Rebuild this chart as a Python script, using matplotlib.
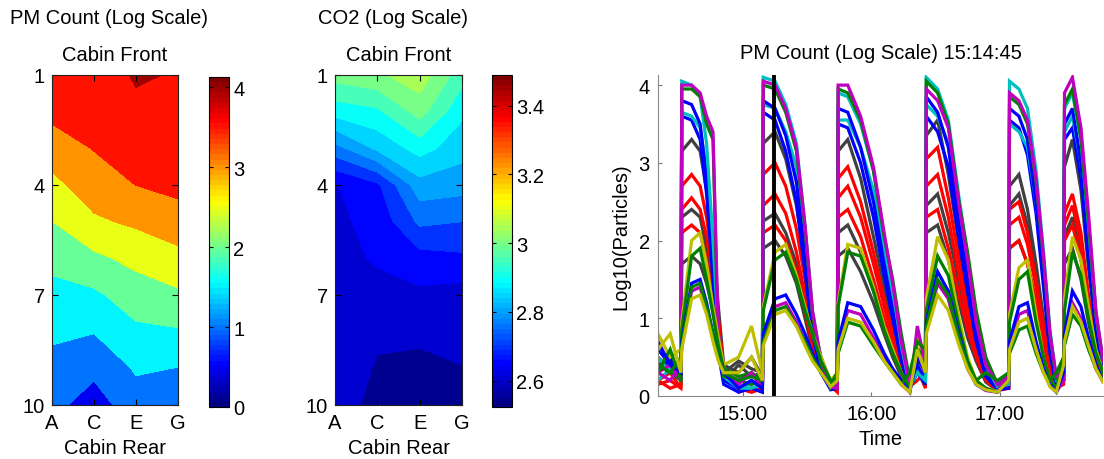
import numpy as np
import matplotlib
matplotlib.use('Agg')
import matplotlib.pyplot as plt
from matplotlib import colors as mcolors
from matplotlib.cm import ScalarMappable

plt.rcParams['font.family'] = ['Liberation Sans', 'DejaVu Sans']
FS = 14.5

# ------------------------------------------------------------------ data
seat_letters = ['A', 'B', 'C', 'D', 'E', 'F', 'G']
grid_seats = ['A', 'C', 'E', 'G']
grid_rows = [1, 2, 3, 4, 5, 6, 7, 8, 9, 10]
seat_tick_labels = ['A', 'C', 'E', 'G']
row_ticks = [1, 4, 7, 10]

# PM count (log10) per seat column, rows 1..10
pm_A = [3.78, 3.62, 3.26, 2.86, 2.49, 2.14, 1.84, 1.58, 1.36, 1.15]
pm_C = [3.70, 3.62, 3.52, 3.26, 2.92, 2.395, 1.91, 1.52, 1.126, 0.755]
pm_E = [4.06, 3.88, 3.70, 3.504, 3.085, 2.633, 2.25, 1.90, 1.55, 1.30]
pm_G = [3.96, 3.82, 3.69, 3.62, 3.30, 2.84, 2.42, 1.95, 1.49, 1.30]
pm_levels = [0.0, 0.5, 1.0, 1.5, 2.0, 2.5, 3.0, 3.5, 4.0, 4.5]
pm_clim = (0.0, 4.13)
pm_cbar_ticks = [0, 1, 2, 3, 4]

# CO2 (log10) per seat column, rows 1..10
co2_A = [3.02, 2.92, 2.78, 2.646, 2.64, 2.635, 2.63, 2.625, 2.62, 2.615]
co2_C = [3.04, 2.94, 2.86, 2.69, 2.665, 2.655, 2.635, 2.605, 2.597, 2.59]
co2_E = [3.08, 3.02, 2.92, 2.83, 2.76, 2.68, 2.64, 2.608, 2.59, 2.58]
co2_G = [2.97, 2.91, 2.87, 2.82, 2.75, 2.69, 2.628, 2.62, 2.598, 2.59]
co2_levels = [2.55, 2.60, 2.65, 2.70, 2.75, 2.80, 2.85, 2.90, 2.95, 3.00, 3.05, 3.10]
co2_clim = (2.523, 3.489)
co2_cbar_ticks = [2.6, 2.8, 3.0, 3.2, 3.4]
co2_cbar_labels = ['2.6', '2.8', '3', '3.2', '3.4']

# PM time series: minutes after 14:00
t_min = [20.3, 26, 31.0,
         31.4, 36, 40, 43, 46, 48.5, 51,
         58, 64, 69.1,
         69.5, 75, 80, 85, 89, 92.5, 96.5, 101,
         104.1,
         104.5, 109, 115, 121, 126, 130, 134, 138,
         141.5, 145.3,
         145.7, 151, 156, 161, 165, 169, 173.5, 179,
         184.2,
         184.6, 189, 193, 197, 200.5, 203.5, 206.5,
         209.9,
         210.3, 214, 218, 221.5, 225, 228.3]

pm_cyan_1 = [0.5, 0.3, 0.4,
             4.05, 4.0, 3.85, 3.25, 2.0, 0.8, 0.25,
             0.1, 0.15, 0.2,
             4.1, 4.05, 3.75, 3.25, 2.2, 1.1, 0.45, 0.12,
             0.2,
             3.9, 3.85, 3.5, 2.9, 2.05, 1.4, 0.65, 0.12,
             0.3, 0.2,
             4.1, 3.95, 3.55, 2.55, 1.8, 1.0, 0.4, 0.12,
             0.15,
             4.05, 3.95, 3.7, 2.9, 1.85, 0.85, 0.2,
             0.2,
             3.7, 3.9, 3.3, 2.2, 1.05, 0.45]
pm_cyan_2 = [0.2, 0.35, 0.25,
             3.65, 3.6, 3.45, 2.9, 1.8, 0.7, 0.2,
             0.1, 0.1, 0.15,
             3.75, 3.7, 3.4, 2.95, 2.0, 1.0, 0.4, 0.1,
             0.15,
             3.55, 3.55, 3.2, 2.65, 1.9, 1.3, 0.6, 0.1,
             0.35, 0.2,
             3.75, 3.6, 3.25, 2.35, 1.65, 0.9, 0.38, 0.1,
             0.2,
             3.5, 3.4, 3.2, 2.5, 1.6, 0.75, 0.18,
             0.25,
             3.4, 3.6, 3.0, 2.05, 0.95, 0.4]
pm_magenta_1 = [0.3, 0.4, 0.2,
                4.0, 4.0, 3.9, 3.6, 3.4, 0.8, 0.3,
                0.2, 0.3, 0.1,
                4.05, 4.0, 3.7, 3.2, 2.2, 1.1, 0.45, 0.12,
                0.1,
                4.0, 4.0, 3.6, 2.95, 2.1, 1.45, 0.7, 0.15,
                0.6, 0.3,
                3.95, 3.8, 3.45, 2.45, 1.75, 0.95, 0.4, 0.15,
                0.3,
                3.9, 3.8, 3.55, 2.8, 1.8, 0.8, 0.25,
                0.3,
                3.9, 4.1, 3.45, 2.35, 1.1, 0.45]
pm_green_1 = [0.4, 0.3, 0.2,
              3.95, 3.95, 3.85, 3.5, 3.3, 0.6, 0.25,
              0.2, 0.15, 0.2,
              4.0, 3.95, 3.65, 3.15, 2.15, 1.05, 0.4, 0.1,
              0.15,
              3.95, 3.9, 3.55, 2.9, 2.05, 1.5, 0.8, 0.2,
              0.5, 0.4,
              4.05, 3.9, 3.5, 2.5, 1.85, 1.1, 0.5, 0.15,
              0.2,
              3.85, 3.75, 3.5, 2.75, 1.75, 0.8, 0.2,
              0.4,
              3.75, 3.95, 3.3, 2.25, 1.05, 0.45]
pm_blue_1 = [0.6, 0.4, 0.3,
             3.8, 3.75, 3.5, 2.8, 1.6, 0.6, 0.2,
             0.1, 0.2, 0.1,
             3.8, 3.7, 3.35, 2.75, 1.8, 0.9, 0.35, 0.1,
             0.1,
             3.7, 3.65, 3.2, 2.5, 1.7, 1.1, 0.5, 0.1,
             0.4, 0.2,
             3.85, 3.65, 3.2, 2.2, 1.5, 0.8, 0.3, 0.1,
             0.2,
             3.7, 3.6, 3.3, 2.5, 1.5, 0.6, 0.15,
             0.3,
             3.5, 3.7, 3.0, 1.9, 0.85, 0.35]
pm_blue_2 = [0.3, 0.5, 0.2,
             3.6, 3.55, 3.3, 2.6, 1.5, 0.55, 0.15,
             0.05, 0.1, 0.05,
             3.65, 3.55, 3.15, 2.5, 1.6, 0.8, 0.3, 0.08,
             0.1,
             3.5, 3.45, 3.0, 2.3, 1.55, 1.0, 0.45, 0.1,
             0.3, 0.15,
             3.6, 3.4, 2.95, 2.0, 1.35, 0.7, 0.25, 0.08,
             0.1,
             3.55, 3.45, 3.1, 2.35, 1.4, 0.55, 0.12,
             0.2,
             3.3, 3.45, 2.8, 1.75, 0.8, 0.3]
pm_grey_1 = [0.4, 0.5, 0.3,
             3.15, 3.3, 3.15, 2.65, 2.0, 1.15, 0.4,
             0.3, 0.5, 0.25,
             3.25, 3.4, 3.05, 2.45, 1.7, 1.0, 0.5, 0.17,
             0.2,
             3.15, 3.3, 2.8, 2.05, 1.4, 0.9, 0.4, 0.13,
             0.35, 0.25,
             3.35, 3.55, 2.85, 1.95, 1.25, 0.7, 0.3, 0.1,
             0.15,
             2.7, 2.85, 2.4, 1.7, 1.0, 0.45, 0.15,
             0.3,
             2.95, 3.3, 2.65, 1.65, 0.85, 0.4]
pm_red_1 = [0.2, 0.3, 0.1,
            2.7, 2.85, 2.7, 2.3, 1.7, 1.0, 0.35,
            0.1, 0.05, 0.1,
            2.85, 3.0, 2.7, 2.15, 1.5, 0.9, 0.45, 0.15,
            0.1,
            2.8, 2.95, 2.5, 1.85, 1.25, 0.8, 0.35, 0.12,
            0.2, 0.3,
            3.05, 3.2, 2.55, 1.75, 1.1, 0.65, 0.25, 0.1,
            0.1,
            2.4, 2.5, 2.1, 1.5, 0.9, 0.4, 0.12,
            0.2,
            2.35, 2.6, 2.1, 1.3, 0.65, 0.3]
pm_red_2 = [0.15, 0.2, 0.1,
            2.4, 2.55, 2.4, 2.05, 1.55, 0.9, 0.3,
            0.05, 0.1, 0.05,
            2.45, 2.6, 2.35, 1.85, 1.3, 0.8, 0.4, 0.13,
            0.05,
            2.55, 2.7, 2.3, 1.7, 1.15, 0.75, 0.3, 0.1,
            0.35, 0.1,
            2.7, 2.85, 2.3, 1.55, 1.0, 0.55, 0.25, 0.08,
            0.1,
            2.2, 2.3, 1.95, 1.4, 0.8, 0.35, 0.1,
            0.15,
            2.2, 2.45, 1.95, 1.2, 0.6, 0.3]
pm_grey_2 = [0.5, 0.35, 0.4,
             2.3, 2.4, 2.3, 1.9, 1.45, 0.85, 0.3,
             0.45, 0.35, 0.3,
             2.25, 2.35, 2.1, 1.7, 1.2, 0.7, 0.35, 0.12,
             0.15,
             2.1, 2.2, 1.85, 1.35, 0.95, 0.6, 0.3, 0.1,
             0.5, 0.3,
             2.45, 2.6, 2.1, 1.45, 0.9, 0.5, 0.2, 0.1,
             0.3,
             2.45, 2.6, 2.2, 1.55, 0.9, 0.4, 0.15,
             0.4,
             2.05, 2.3, 1.85, 1.15, 0.6, 0.3]
pm_red_3 = [0.2, 0.1, 0.15,
            2.1, 2.2, 2.1, 1.75, 1.3, 0.75, 0.25,
            0.1, 0.05, 0.1,
            2.1, 2.2, 2.0, 1.6, 1.1, 0.65, 0.35, 0.1,
            0.1,
            2.3, 2.4, 2.05, 1.5, 1.0, 0.65, 0.3, 0.1,
            0.4, 0.2,
            2.3, 2.4, 1.9, 1.3, 0.85, 0.5, 0.2, 0.07,
            0.1,
            1.9, 2.0, 1.7, 1.2, 0.7, 0.3, 0.1,
            0.2,
            2.0, 2.2, 1.75, 1.1, 0.55, 0.25]
pm_grey_3 = [0.35, 0.45, 0.2,
             1.7, 1.8, 1.7, 1.45, 1.1, 0.65, 0.2,
             0.4, 0.25, 0.3,
             1.9, 2.0, 1.8, 1.45, 1.0, 0.6, 0.3, 0.1,
             0.25,
             1.8, 1.9, 1.6, 1.2, 0.8, 0.5, 0.25, 0.08,
             0.45, 0.35,
             2.1, 2.2, 1.75, 1.2, 0.75, 0.45, 0.18, 0.07,
             0.25,
             1.9, 2.0, 1.7, 1.2, 0.7, 0.3, 0.1,
             0.5,
             1.7, 1.9, 1.5, 0.95, 0.5, 0.23]
pm_yellow_1 = [0.8, 0.5, 0.6,
               0.95, 2.0, 2.1, 1.7, 1.15, 0.75, 0.4,
               0.5, 0.9, 0.3,
               1.15, 1.85, 1.95, 1.55, 1.15, 0.8, 0.5, 0.2,
               0.3,
               1.2, 1.95, 1.9, 1.4, 0.9, 0.6, 0.3, 0.1,
               0.8, 0.3,
               1.25, 2.05, 1.75, 1.0, 0.5, 0.2, 0.1, 0.06,
               0.2,
               1.05, 1.65, 1.75, 1.05, 0.5, 0.2, 0.1,
               0.3,
               1.25, 2.05, 1.75, 1.15, 0.6, 0.3]
pm_green_2 = [0.3, 0.6, 0.2,
              0.85, 1.8, 1.9, 1.5, 1.05, 0.65, 0.35,
              0.25, 0.3, 0.2,
              1.1, 1.75, 1.85, 1.5, 1.1, 0.8, 0.45, 0.2,
              0.2,
              1.15, 1.85, 1.8, 1.35, 0.85, 0.55, 0.3, 0.1,
              0.6, 0.5,
              1.1, 1.8, 1.55, 0.9, 0.45, 0.2, 0.1, 0.05,
              0.3,
              0.95, 1.5, 1.6, 0.95, 0.5, 0.2, 0.1,
              0.4,
              1.1, 1.85, 1.55, 1.0, 0.55, 0.3]
pm_magenta_2 = [0.3, 0.2, 0.4,
                0.65, 1.35, 1.4, 1.1, 0.75, 0.5, 0.3,
                0.15, 0.3, 0.1,
                0.7, 1.15, 1.2, 0.95, 0.7, 0.5, 0.3, 0.12,
                0.1,
                0.65, 1.1, 1.05, 0.75, 0.5, 0.35, 0.15, 0.05,
                0.9, 0.4,
                0.85, 1.45, 1.25, 0.7, 0.35, 0.15, 0.07, 0.05,
                0.3,
                0.65, 1.05, 1.1, 0.65, 0.35, 0.13, 0.05,
                0.2,
                0.7, 1.2, 1.0, 0.65, 0.35, 0.18]
pm_blue_3 = [0.7, 0.4, 0.3,
             0.7, 1.45, 1.5, 1.2, 0.8, 0.5, 0.3,
             0.1, 0.2, 0.1,
             0.8, 1.25, 1.3, 1.05, 0.8, 0.55, 0.3, 0.15,
             0.2,
             0.7, 1.2, 1.15, 0.85, 0.55, 0.35, 0.2, 0.05,
             0.5, 0.3,
             0.95, 1.6, 1.35, 0.8, 0.4, 0.15, 0.08, 0.05,
             0.2,
             0.7, 1.15, 1.2, 0.7, 0.35, 0.15, 0.05,
             0.3,
             0.8, 1.35, 1.15, 0.75, 0.4, 0.2]
pm_green_3 = [0.4, 0.3, 0.5,
              0.65, 1.4, 1.45, 1.15, 0.8, 0.5, 0.3,
              0.2, 0.25, 0.2,
              0.7, 1.1, 1.15, 0.9, 0.7, 0.5, 0.3, 0.15,
              0.3,
              0.55, 0.95, 0.9, 0.65, 0.45, 0.3, 0.15, 0.3,
              0.7, 0.6,
              0.9, 1.5, 1.3, 0.75, 0.4, 0.2, 0.3, 0.2,
              0.3,
              0.55, 0.85, 0.9, 0.55, 0.3, 0.2, 0.3,
              0.5,
              0.65, 1.05, 0.9, 0.6, 0.35, 0.2]
pm_yellow_2 = [0.6, 0.8, 0.3,
               0.6, 1.25, 1.3, 1.05, 0.7, 0.45, 0.3,
               0.3, 0.5, 0.2,
               0.65, 1.05, 1.1, 0.9, 0.65, 0.45, 0.3, 0.12,
               0.2,
               0.6, 1.0, 0.95, 0.7, 0.45, 0.3, 0.15, 0.05,
               0.6, 0.3,
               0.8, 1.3, 1.1, 0.65, 0.35, 0.15, 0.08, 0.05,
               0.2,
               0.6, 0.95, 1.0, 0.6, 0.3, 0.12, 0.05,
               0.4,
               0.7, 1.15, 0.95, 0.65, 0.35, 0.18]

C_B = (0, 0, 1)
C_G = (0, 0.5, 0)
C_R = (1, 0, 0)
C_C = (0, 0.75, 0.75)
C_M = (0.75, 0, 0.75)
C_Y = (0.75, 0.75, 0)
C_K = (0.25, 0.25, 0.25)

trace_list = [
    (pm_grey_1, C_K), (pm_grey_2, C_K), (pm_grey_3, C_K),
    (pm_red_1, C_R), (pm_red_2, C_R), (pm_red_3, C_R),
    (pm_blue_2, C_B), (pm_cyan_2, C_C), (pm_blue_1, C_B),
    (pm_cyan_1, C_C), (pm_green_1, C_G), (pm_magenta_1, C_M),
    (pm_yellow_1, C_Y), (pm_green_2, C_G), (pm_magenta_2, C_M),
    (pm_blue_3, C_B), (pm_green_3, C_G), (pm_yellow_2, C_Y),
]
for vals, _ in trace_list:
    if len(vals) != len(t_min):
        raise ValueError(f"length mismatch {len(vals)} vs {len(t_min)}")

cursor_time_min = 74.75          # 15:14:45
time_ticks_min = [60, 120, 180]
time_tick_labels = ['15:00', '16:00', '17:00']
time_xlim = (20.3, 228.3)

# ------------------------------------------------------------------ figure
W, H = 1104, 460
fig = plt.figure(figsize=(W / 100, H / 100), dpi=100)


def fx(px):
    return px / W


def fy(py):
    return 1 - py / H


def ax_rect(l, t, r, b):
    return [fx(l), fy(b), fx(r) - fx(l), fy(t) - fy(b)]


# MATLAB-style jet colormap (64 entries)
_jet_data = {
    'red':   [(0, 0, 0), (3 / 8, 0, 0), (5 / 8, 1, 1), (7 / 8, 1, 1), (1, 0.5, 0.5)],
    'green': [(0, 0, 0), (1 / 8, 0, 0), (3 / 8, 1, 1), (5 / 8, 1, 1), (7 / 8, 0, 0), (1, 0, 0)],
    'blue':  [(0, 0.5, 0.5), (1 / 8, 1, 1), (3 / 8, 1, 1), (5 / 8, 0, 0), (1, 0, 0)],
}
jet = mcolors.LinearSegmentedColormap('matlab_jet', _jet_data, N=64)

col_pos = [seat_letters.index(s) + 1 for s in grid_seats]
X, Y = np.meshgrid(col_pos, grid_rows)


def contour_panel(rect, cbar_rect, Z, levels, clim, cticks, clabels):
    ax = fig.add_axes(rect)
    norm = mcolors.Normalize(vmin=clim[0], vmax=clim[1])
    fills = [jet(norm(l)) for l in levels[:-1]]
    ax.contourf(X, Y, Z, levels=levels, colors=fills)
    ax.set_xlim(1, 7)
    ax.set_ylim(10, 1)
    ax.set_xticks([seat_letters.index(s) + 1 for s in seat_tick_labels])
    ax.set_xticklabels(seat_tick_labels)
    ax.set_yticks(row_ticks)
    ax.tick_params(direction='in', length=4, width=0.8, top=True, right=True,
                   labelsize=FS, pad=5)
    ax.tick_params(axis='x', pad=6)
    for sp in ax.spines.values():
        sp.set_linewidth(0.8)
        sp.set_color('#222222')
    ax.set_title('Cabin Front', fontsize=FS, pad=11)
    ax.set_xlabel('Cabin Rear', fontsize=FS, labelpad=4)
    cax = fig.add_axes(cbar_rect)
    sm = ScalarMappable(norm=norm, cmap=jet)
    cb = fig.colorbar(sm, cax=cax, ticks=cticks)
    cb.ax.set_yticklabels(clabels)
    cb.outline.set_linewidth(0.8)
    cax.tick_params(direction='in', length=3, width=0.8, left=True, right=True,
                    labelsize=FS, pad=3)
    return ax


Z_pm = np.column_stack([pm_A, pm_C, pm_E, pm_G])
Z_co2 = np.column_stack([co2_A, co2_C, co2_E, co2_G])

contour_panel(ax_rect(52, 76, 178, 406), ax_rect(209, 78, 229, 408),
              Z_pm, pm_levels, pm_clim, pm_cbar_ticks,
              [str(v) for v in pm_cbar_ticks])
contour_panel(ax_rect(335, 76, 462, 406), ax_rect(492, 76, 512, 408),
              Z_co2, co2_levels, co2_clim, co2_cbar_ticks, co2_cbar_labels)

fig.text(fx(10), fy(18), 'PM Count (Log Scale)', fontsize=FS, ha='left', va='center')
fig.text(fx(318), fy(18), 'CO2 (Log Scale)', fontsize=FS, ha='left', va='center')

# line chart
ax3 = fig.add_axes(ax_rect(658, 76, 1103, 397))
for vals, col in trace_list:
    ax3.plot(t_min, vals, color=col, lw=2.3, solid_joinstyle='miter')
ax3.axvline(cursor_time_min, color='black', lw=2.8, zorder=10)
ax3.set_xlim(*time_xlim)
ax3.set_ylim(0, 4.13)
ax3.set_yticks([0, 1, 2, 3, 4])
ax3.set_xticks(time_ticks_min)
ax3.set_xticklabels(time_tick_labels)
ax3.tick_params(direction='in', length=3, labelsize=FS, pad=6, color='#777777')
for side in ['top', 'right']:
    ax3.spines[side].set_visible(False)
for side in ['left', 'bottom']:
    ax3.spines[side].set_color('#888888')
ax3.set_title('PM Count (Log Scale) 15:14:45', fontsize=FS, pad=12)
ax3.set_xlabel('Time', fontsize=FS, labelpad=4)
ax3.set_ylabel('Log10(Particles)', fontsize=FS, labelpad=6)

fig.savefig('out.png', dpi=100)
